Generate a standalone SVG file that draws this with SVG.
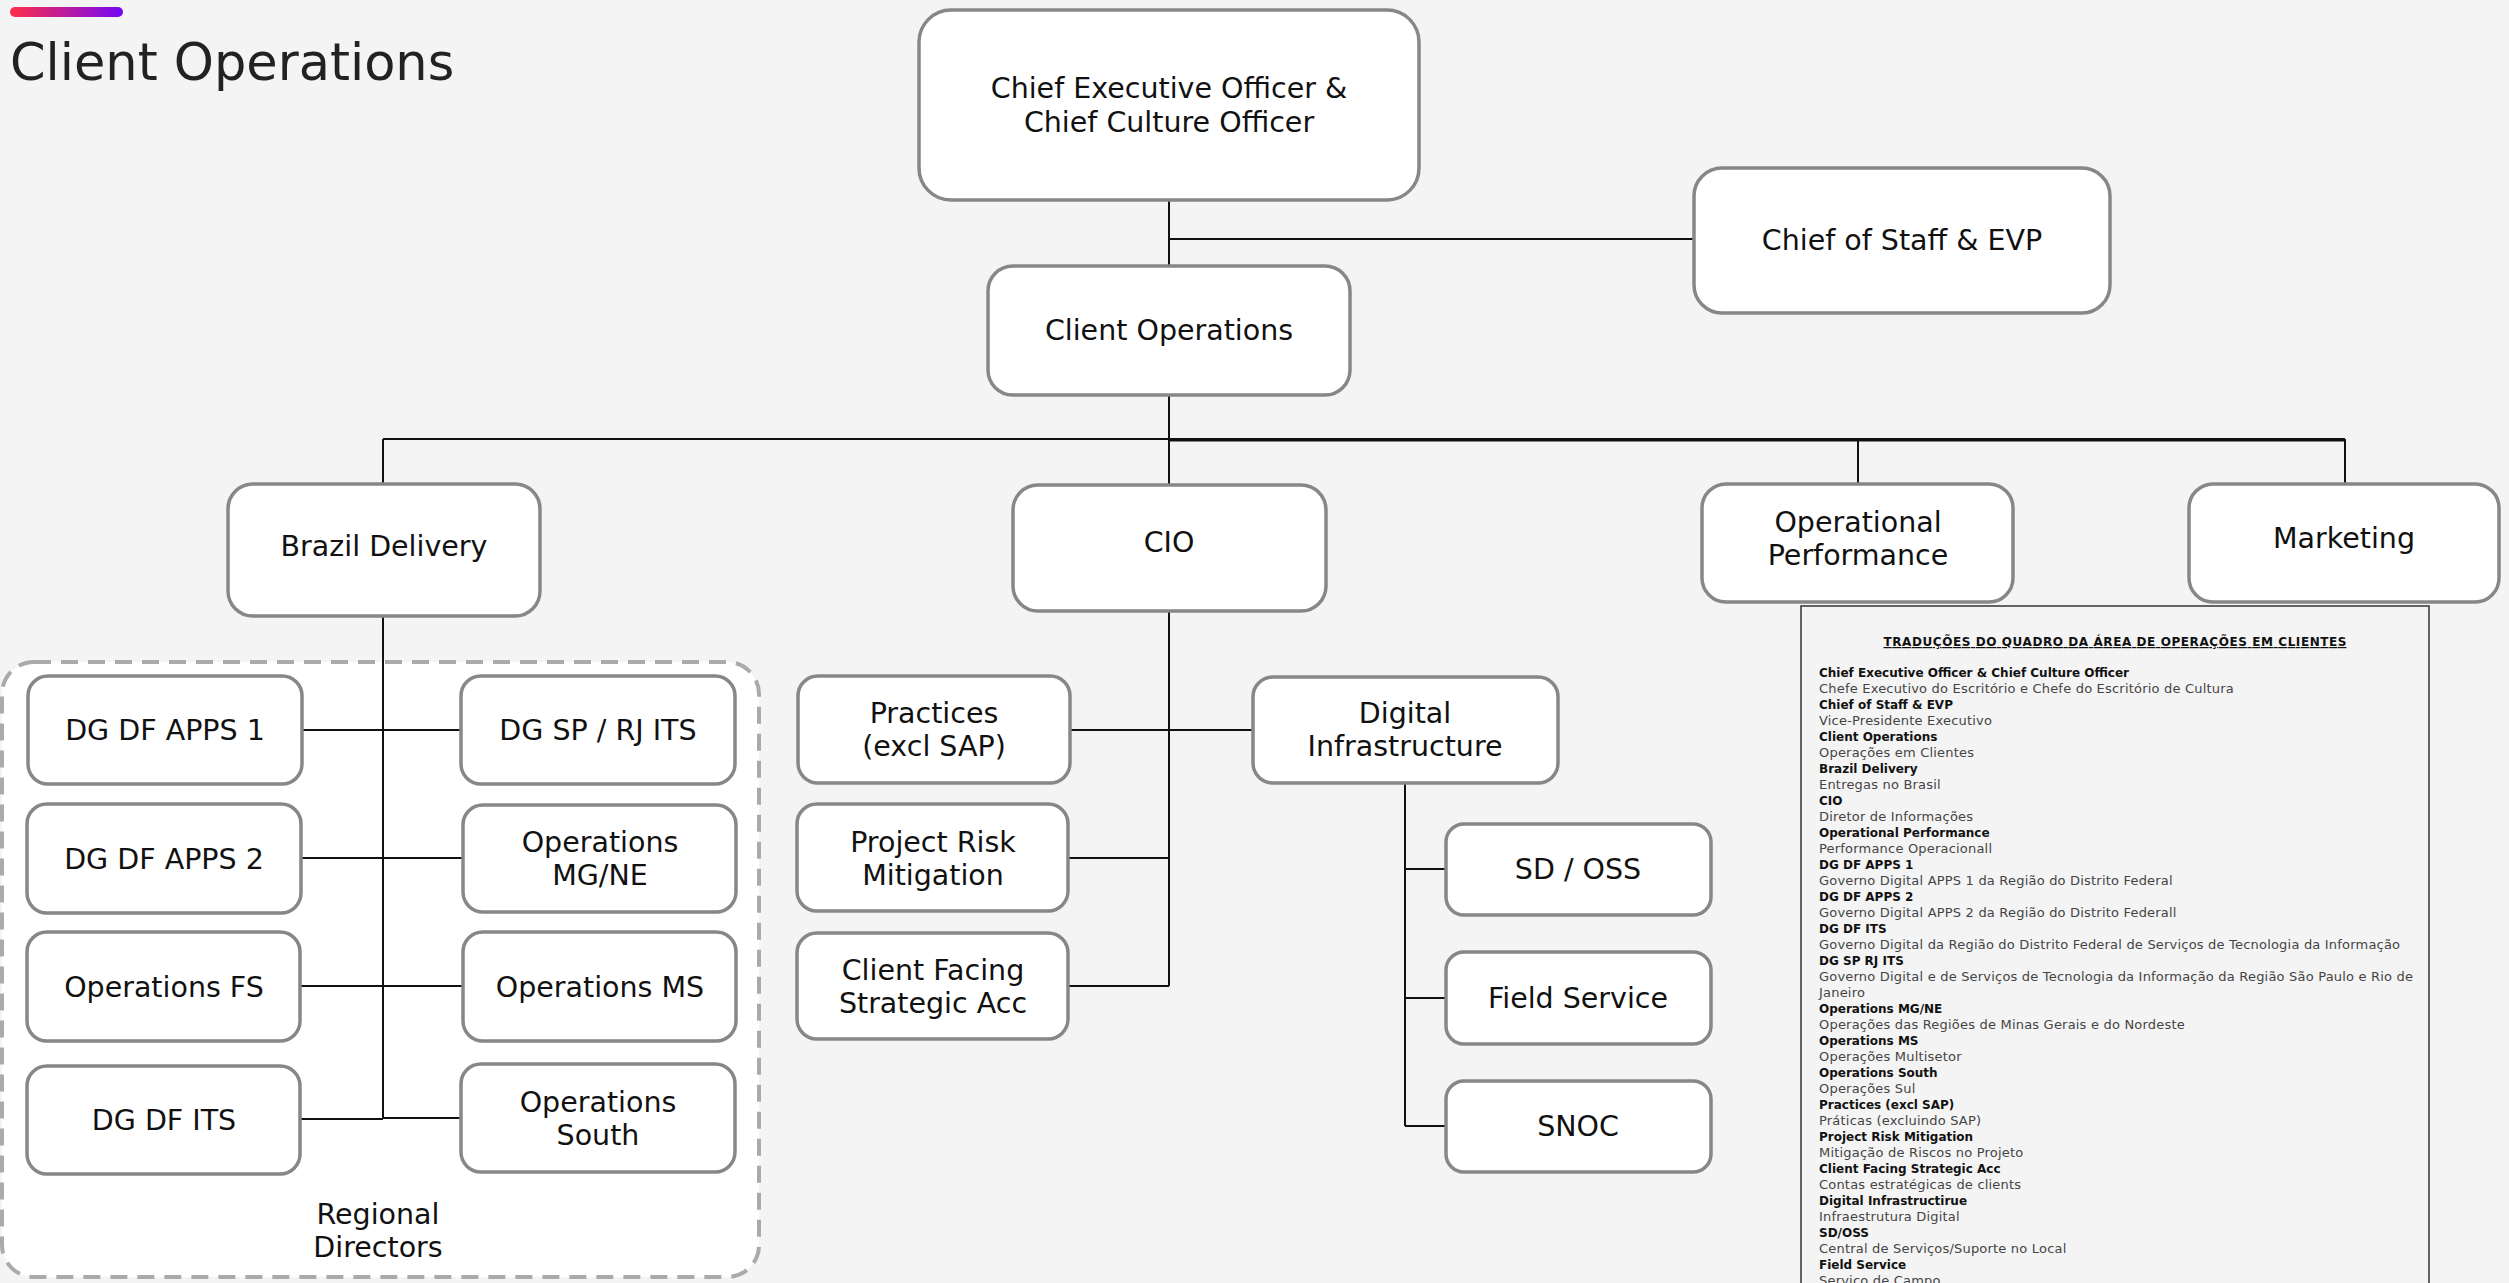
<svg xmlns="http://www.w3.org/2000/svg" width="2509" height="1283" viewBox="0 0 2509 1283">
<defs>
<linearGradient id="bar" x1="0" y1="0" x2="1" y2="0">
<stop offset="0" stop-color="#ff2d48"/>
<stop offset="1" stop-color="#7408f6"/>
</linearGradient>
<style>
.box{fill:#fff;stroke:#878787;stroke-width:3.5}
.lbl{font-family:"DejaVu Sans",sans-serif;font-size:28.5px;fill:#111;text-anchor:middle}
.ln{stroke:#111;stroke-width:2;fill:none}
.tb{font-family:"DejaVu Sans",sans-serif;font-size:12px;font-weight:bold;fill:#111}
.tr{font-family:"DejaVu Sans",sans-serif;font-size:13px;letter-spacing:0.2px;fill:#444}
</style>
</defs>
<rect x="0" y="0" width="2509" height="1283" fill="#f4f4f4"/>
<rect x="10" y="7" width="113" height="10" rx="5" fill="url(#bar)"/>
<text x="10" y="80" font-family="DejaVu Sans, sans-serif" font-size="51" fill="#222">Client Operations</text>

<g id="regional-directors-group">
<rect x="2" y="662" width="757" height="615" rx="32" fill="#fff" stroke="#aaa" stroke-width="4" stroke-dasharray="17 10"/>
<text class="lbl" x="378" y="1224">Regional</text>
<text class="lbl" x="378" y="1257">Directors</text>
</g>

<g id="connectors">
<path class="ln" d="M1169 200V266M1169 239H1694"/>
<path class="ln" d="M1169 395V484M383 439H2345M383 439V484M1858 439V484M2345 439V484"/>
<path class="ln" d="M1169 440.5H2345" stroke-width="1.5"/>
<path class="ln" d="M383 616V1119" stroke-width="2.5"/>
<path class="ln" d="M302 730H461M301 858H463M300 986H463M300 1119H383M383 1118H461"/>
<path class="ln" d="M1169 611V986M1070 730H1253M1068 858H1169M1068 986H1169"/>
<path class="ln" d="M1405 783V1126M1405 869H1446M1405 998H1446M1405 1126H1446"/>
</g>

<g id="ceo"><rect class="box" x="919" y="10" width="500" height="190" rx="32"/>
<text class="lbl" x="1169" y="98">Chief Executive Officer &amp;</text>
<text class="lbl" x="1169" y="132">Chief Culture Officer</text></g>

<g id="chief-of-staff"><rect class="box" x="1694" y="168" width="416" height="145" rx="28"/>
<text class="lbl" x="1902" y="250">Chief of Staff &amp; EVP</text></g>

<g id="client-operations"><rect class="box" x="988" y="266" width="362" height="129" rx="25"/>
<text class="lbl" x="1169" y="340">Client Operations</text></g>

<g id="brazil-delivery"><rect class="box" x="228" y="484" width="312" height="132" rx="25"/>
<text class="lbl" x="384" y="556">Brazil Delivery</text></g>

<g id="cio"><rect class="box" x="1013" y="485" width="313" height="126" rx="25"/>
<text class="lbl" x="1169" y="552">CIO</text></g>

<g id="operational-performance"><rect class="box" x="1702" y="484" width="311" height="118" rx="24"/>
<text class="lbl" x="1858" y="532">Operational</text>
<text class="lbl" x="1858" y="565">Performance</text></g>

<g id="marketing"><rect class="box" x="2189" y="484" width="310" height="118" rx="24"/>
<text class="lbl" x="2344" y="548">Marketing</text></g>

<g id="dg-df-apps-1"><rect class="box" x="28" y="676" width="274" height="108" rx="20"/>
<text class="lbl" x="165" y="740">DG DF APPS 1</text></g>
<g id="dg-df-apps-2"><rect class="box" x="27" y="804" width="274" height="109" rx="20"/>
<text class="lbl" x="164" y="869">DG DF APPS 2</text></g>
<g id="operations-fs"><rect class="box" x="27" y="932" width="273" height="109" rx="20"/>
<text class="lbl" x="164" y="997">Operations FS</text></g>
<g id="dg-df-its"><rect class="box" x="27" y="1066" width="273" height="108" rx="20"/>
<text class="lbl" x="164" y="1130">DG DF ITS</text></g>

<g id="dg-sp-rj-its"><rect class="box" x="461" y="676" width="274" height="108" rx="20"/>
<text class="lbl" x="598" y="740">DG SP / RJ ITS</text></g>
<g id="operations-mg-ne"><rect class="box" x="463" y="805" width="273" height="107" rx="20"/>
<text class="lbl" x="600" y="852">Operations</text>
<text class="lbl" x="600" y="885">MG/NE</text></g>
<g id="operations-ms"><rect class="box" x="463" y="932" width="273" height="109" rx="20"/>
<text class="lbl" x="600" y="997">Operations MS</text></g>
<g id="operations-south"><rect class="box" x="461" y="1064" width="274" height="108" rx="20"/>
<text class="lbl" x="598" y="1112">Operations</text>
<text class="lbl" x="598" y="1145">South</text></g>

<g id="practices"><rect class="box" x="798" y="676" width="272" height="107" rx="20"/>
<text class="lbl" x="934" y="723">Practices</text>
<text class="lbl" x="934" y="756">(excl SAP)</text></g>
<g id="project-risk-mitigation"><rect class="box" x="797" y="804" width="271" height="107" rx="20"/>
<text class="lbl" x="933" y="852">Project Risk</text>
<text class="lbl" x="933" y="885">Mitigation</text></g>
<g id="client-facing-strategic-acc"><rect class="box" x="797" y="933" width="271" height="106" rx="20"/>
<text class="lbl" x="933" y="980">Client Facing</text>
<text class="lbl" x="933" y="1013">Strategic Acc</text></g>

<g id="digital-infrastructure"><rect class="box" x="1253" y="677" width="305" height="106" rx="20"/>
<text class="lbl" x="1405" y="723">Digital</text>
<text class="lbl" x="1405" y="756">Infrastructure</text></g>
<g id="sd-oss"><rect class="box" x="1446" y="824" width="265" height="91" rx="18"/>
<text class="lbl" x="1578" y="879">SD / OSS</text></g>
<g id="field-service"><rect class="box" x="1446" y="952" width="265" height="92" rx="18"/>
<text class="lbl" x="1578" y="1008">Field Service</text></g>
<g id="snoc"><rect class="box" x="1446" y="1081" width="265" height="91" rx="18"/>
<text class="lbl" x="1578" y="1136">SNOC</text></g>

<g id="translations">
<rect x="1801" y="606" width="628" height="700" fill="#f4f4f4" stroke="#333" stroke-width="1.5"/>
<text class="tb" x="2115" y="646" text-anchor="middle" text-decoration="underline" textLength="463">TRADUÇÕES DO QUADRO DA ÁREA DE OPERAÇÕES EM CLIENTES</text>
<text class="tb" x="1819" y="677">Chief Executive Officer &amp; Chief Culture Officer</text>
<text class="tr" x="1819" y="693">Chefe Executivo do Escritório e Chefe do Escritório de Cultura</text>
<text class="tb" x="1819" y="709">Chief of Staff &amp; EVP</text>
<text class="tr" x="1819" y="725">Vice-Presidente Executivo</text>
<text class="tb" x="1819" y="741">Client Operations</text>
<text class="tr" x="1819" y="757">Operações em Clientes</text>
<text class="tb" x="1819" y="773">Brazil Delivery</text>
<text class="tr" x="1819" y="789">Entregas no Brasil</text>
<text class="tb" x="1819" y="805">CIO</text>
<text class="tr" x="1819" y="821">Diretor de Informações</text>
<text class="tb" x="1819" y="837">Operational Performance</text>
<text class="tr" x="1819" y="853">Performance Operacionall</text>
<text class="tb" x="1819" y="869">DG DF APPS 1</text>
<text class="tr" x="1819" y="885">Governo Digital APPS 1 da Região do Distrito Federal</text>
<text class="tb" x="1819" y="901">DG DF APPS 2</text>
<text class="tr" x="1819" y="917">Governo Digital APPS 2 da Região do Distrito Federall</text>
<text class="tb" x="1819" y="933">DG DF ITS</text>
<text class="tr" x="1819" y="949">Governo Digital da Região do Distrito Federal de Serviços de Tecnologia da Informação</text>
<text class="tb" x="1819" y="965">DG SP RJ ITS</text>
<text class="tr" x="1819" y="981">Governo Digital e de Serviços de Tecnologia da Informação da Região São Paulo e Rio de</text>
<text class="tr" x="1819" y="997">Janeiro</text>
<text class="tb" x="1819" y="1013">Operations MG/NE</text>
<text class="tr" x="1819" y="1029">Operações das Regiões de Minas Gerais e do Nordeste</text>
<text class="tb" x="1819" y="1045">Operations MS</text>
<text class="tr" x="1819" y="1061">Operações Multisetor</text>
<text class="tb" x="1819" y="1077">Operations South</text>
<text class="tr" x="1819" y="1093">Operações Sul</text>
<text class="tb" x="1819" y="1109">Practices (excl SAP)</text>
<text class="tr" x="1819" y="1125">Práticas (excluindo SAP)</text>
<text class="tb" x="1819" y="1141">Project Risk Mitigation</text>
<text class="tr" x="1819" y="1157">Mitigação de Riscos no Projeto</text>
<text class="tb" x="1819" y="1173">Client Facing Strategic Acc</text>
<text class="tr" x="1819" y="1189">Contas estratégicas de clients</text>
<text class="tb" x="1819" y="1205">Digital Infrastructirue</text>
<text class="tr" x="1819" y="1221">Infraestrutura Digital</text>
<text class="tb" x="1819" y="1237">SD/OSS</text>
<text class="tr" x="1819" y="1253">Central de Serviços/Suporte no Local</text>
<text class="tb" x="1819" y="1269">Field Service</text>
<text class="tr" x="1819" y="1285">Serviço de Campo</text>
</g>
</svg>
